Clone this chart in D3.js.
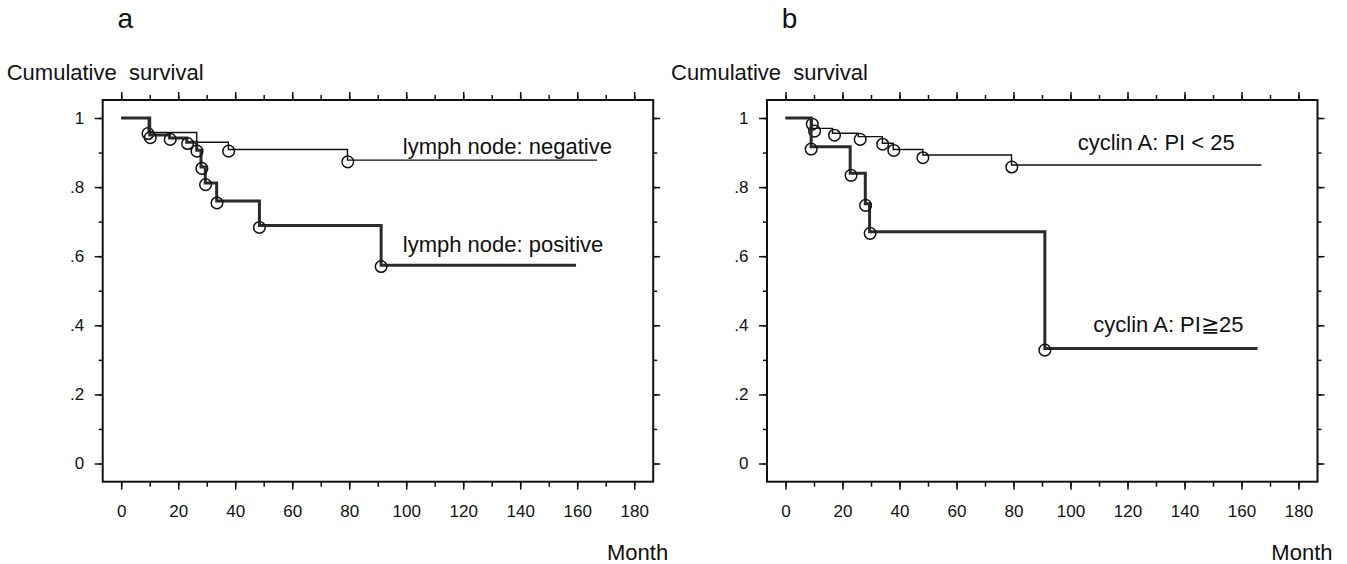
<!DOCTYPE html>
<html>
<head>
<meta charset="utf-8">
<script src="https://cdn.jsdelivr.net/npm/d3@7"></script>
<style>
  body { margin: 0; background: #fff; }
  text { font-family: "Liberation Sans", Arial, Helvetica, sans-serif; fill: #111; }
</style>
</head>
<body>
<svg id="km" width="1347" height="564"></svg>
<script>
// panel a: lymph node status
const aNegSteps = [[0, 1], [9.5, 0.958], [26.5, 0.930], [37.6, 0.909], [79.4, 0.878]];
const aNegEnd = 167;
const aNegCensor = [[9.4, 0.958], [37.7, 0.907], [79.5, 0.876]];
const aPosSteps = [[0, 1], [10, 0.951], [17, 0.942], [23, 0.930], [26.5, 0.907], [28, 0.858],
  [29.5, 0.812], [33.5, 0.760], [48.5, 0.689], [91.2, 0.574]];
const aPosEnd = 159.6;
const aPosCensor = [[10.2, 0.946], [17.2, 0.941], [23.3, 0.929], [26.6, 0.907], [28.3, 0.857],
  [29.6, 0.810], [33.6, 0.757], [48.5, 0.686], [91.2, 0.573]];

// panel b: cyclin A proliferation index
const bLowSteps = [[0, 1], [9.3, 0.970], [16.5, 0.956], [25.5, 0.946], [34, 0.927], [37.8, 0.909],
  [48.2, 0.893], [79.3, 0.864]];
const bLowEnd = 167;
const bLowCensor = [[9.4, 0.985], [10.2, 0.965], [17.2, 0.953], [26.2, 0.941], [34.1, 0.927],
  [38, 0.909], [48.2, 0.888], [79.4, 0.861]];
const bHighSteps = [[0, 1], [9, 0.917], [22.7, 0.840], [28, 0.752], [29.5, 0.671], [91, 0.333]];
const bHighEnd = 165.6;
const bHighCensor = [[9, 0.913], [23, 0.837], [28.1, 0.750], [29.7, 0.669], [91, 0.331]];

const xTicks = d3.range(0, 181, 20);
const xMinor = d3.range(0, 181, 10);
const yTicks = [0, 0.2, 0.4, 0.6, 0.8, 1];
const yMinor = d3.range(0, 1.01, 0.1);
const yLabels = ["0", ".2", ".4", ".6", ".8", "1"];

const panels = [
  { letter: "a", left: 102.7, steps: [[aNegSteps, aNegEnd, aNegCensor, 1.4], [aPosSteps, aPosEnd, aPosCensor, 3]],
    labels: [["lymph node: negative", 98.8, 0.896], ["lymph node: positive", 98.8, 0.613]] },
  { letter: "b", left: 767, steps: [[bLowSteps, bLowEnd, bLowCensor, 1.4], [bHighSteps, bHighEnd, bHighCensor, 3]],
    labels: [["cyclin A: PI < 25", 102.5, 0.908], ["cyclin A: PI\u226725", 108, 0.381]] }
];

const svg = d3.select("#km");
const boxW = 550.5, boxTop = 100, boxBottom = 481.7;

panels.forEach(p => {
  const g = svg.append("g").attr("transform", `translate(${p.left},0)`);
  const x = d3.scaleLinear().domain([0, 180]).range([18.5, 531.5]);
  const y = d3.scaleLinear().domain([0, 1]).range([463.5, 118]);

  // axes: minor and major ticks on all four sides
  const addAxis = (axis, tr) => {
    const a = g.append("g").attr("transform", tr).call(axis);
    a.select(".domain").remove();
    a.selectAll("line").attr("stroke", "#111").attr("stroke-width", 1.5);
    a.selectAll("text").attr("font-size", 17).attr("fill", "#111")
      .style("font-family", '"Liberation Sans", Arial, sans-serif');
    return a;
  };
  addAxis(d3.axisBottom(x).tickValues(xMinor).tickSize(5).tickFormat(""), `translate(0,${boxBottom})`);
  addAxis(d3.axisBottom(x).tickValues(xTicks).tickSize(8).tickPadding(15.5).tickFormat(d3.format("d")), `translate(0,${boxBottom})`);
  addAxis(d3.axisTop(x).tickValues(xMinor).tickSize(5).tickFormat(""), `translate(0,${boxTop})`);
  addAxis(d3.axisTop(x).tickValues(xTicks).tickSize(8).tickFormat(""), `translate(0,${boxTop})`);
  addAxis(d3.axisLeft(y).tickValues(yMinor).tickSize(4).tickFormat(""), "translate(0,0)");
  addAxis(d3.axisLeft(y).tickValues(yTicks).tickSize(8).tickPadding(10.5)
    .tickFormat((d, i) => yLabels[i]), "translate(0,0)");
  addAxis(d3.axisRight(y).tickValues(yMinor).tickSize(4).tickFormat(""), `translate(${boxW},0)`);
  addAxis(d3.axisRight(y).tickValues(yTicks).tickSize(7).tickFormat(""), `translate(${boxW},0)`);

  g.append("rect").attr("x", 0).attr("y", boxTop).attr("width", boxW).attr("height", boxBottom - boxTop)
    .attr("fill", "none").attr("stroke", "#111").attr("stroke-width", 2);

  const line = d3.line().x(d => x(d[0])).y(d => y(d[1])).curve(d3.curveStepAfter);
  p.steps.forEach(([steps, end, censor, w]) => {
    const pts = steps.concat([[end, steps[steps.length - 1][1]]]);
    g.append("path").attr("d", line(pts)).attr("fill", "none")
      .attr("stroke", w > 2 ? "#2b2b2b" : "#111").attr("stroke-width", w);
    g.selectAll(null).data(censor).join("circle")
      .attr("cx", d => x(d[0])).attr("cy", d => y(d[1]) + 1).attr("r", 5.8)
      .attr("fill", "none").attr("stroke", "#111").attr("stroke-width", 1.5);
  });

  p.labels.forEach(([t, lx, ly]) => {
    g.append("text").attr("x", x(lx)).attr("y", y(ly)).attr("font-size", 22).text(t);
  });

  g.append("text").attr("x", x(0) + 4).attr("y", 28).attr("text-anchor", "middle")
    .attr("font-size", 28).text(p.letter);
  g.append("text").attr("x", -96).attr("y", 80).attr("font-size", 22)
    .style("white-space", "pre").text("Cumulative  survival");
  g.append("text").attr("x", boxW + 15).attr("y", 560).attr("text-anchor", "end")
    .attr("font-size", 22).text("Month");
});
</script>
</body>
</html>
